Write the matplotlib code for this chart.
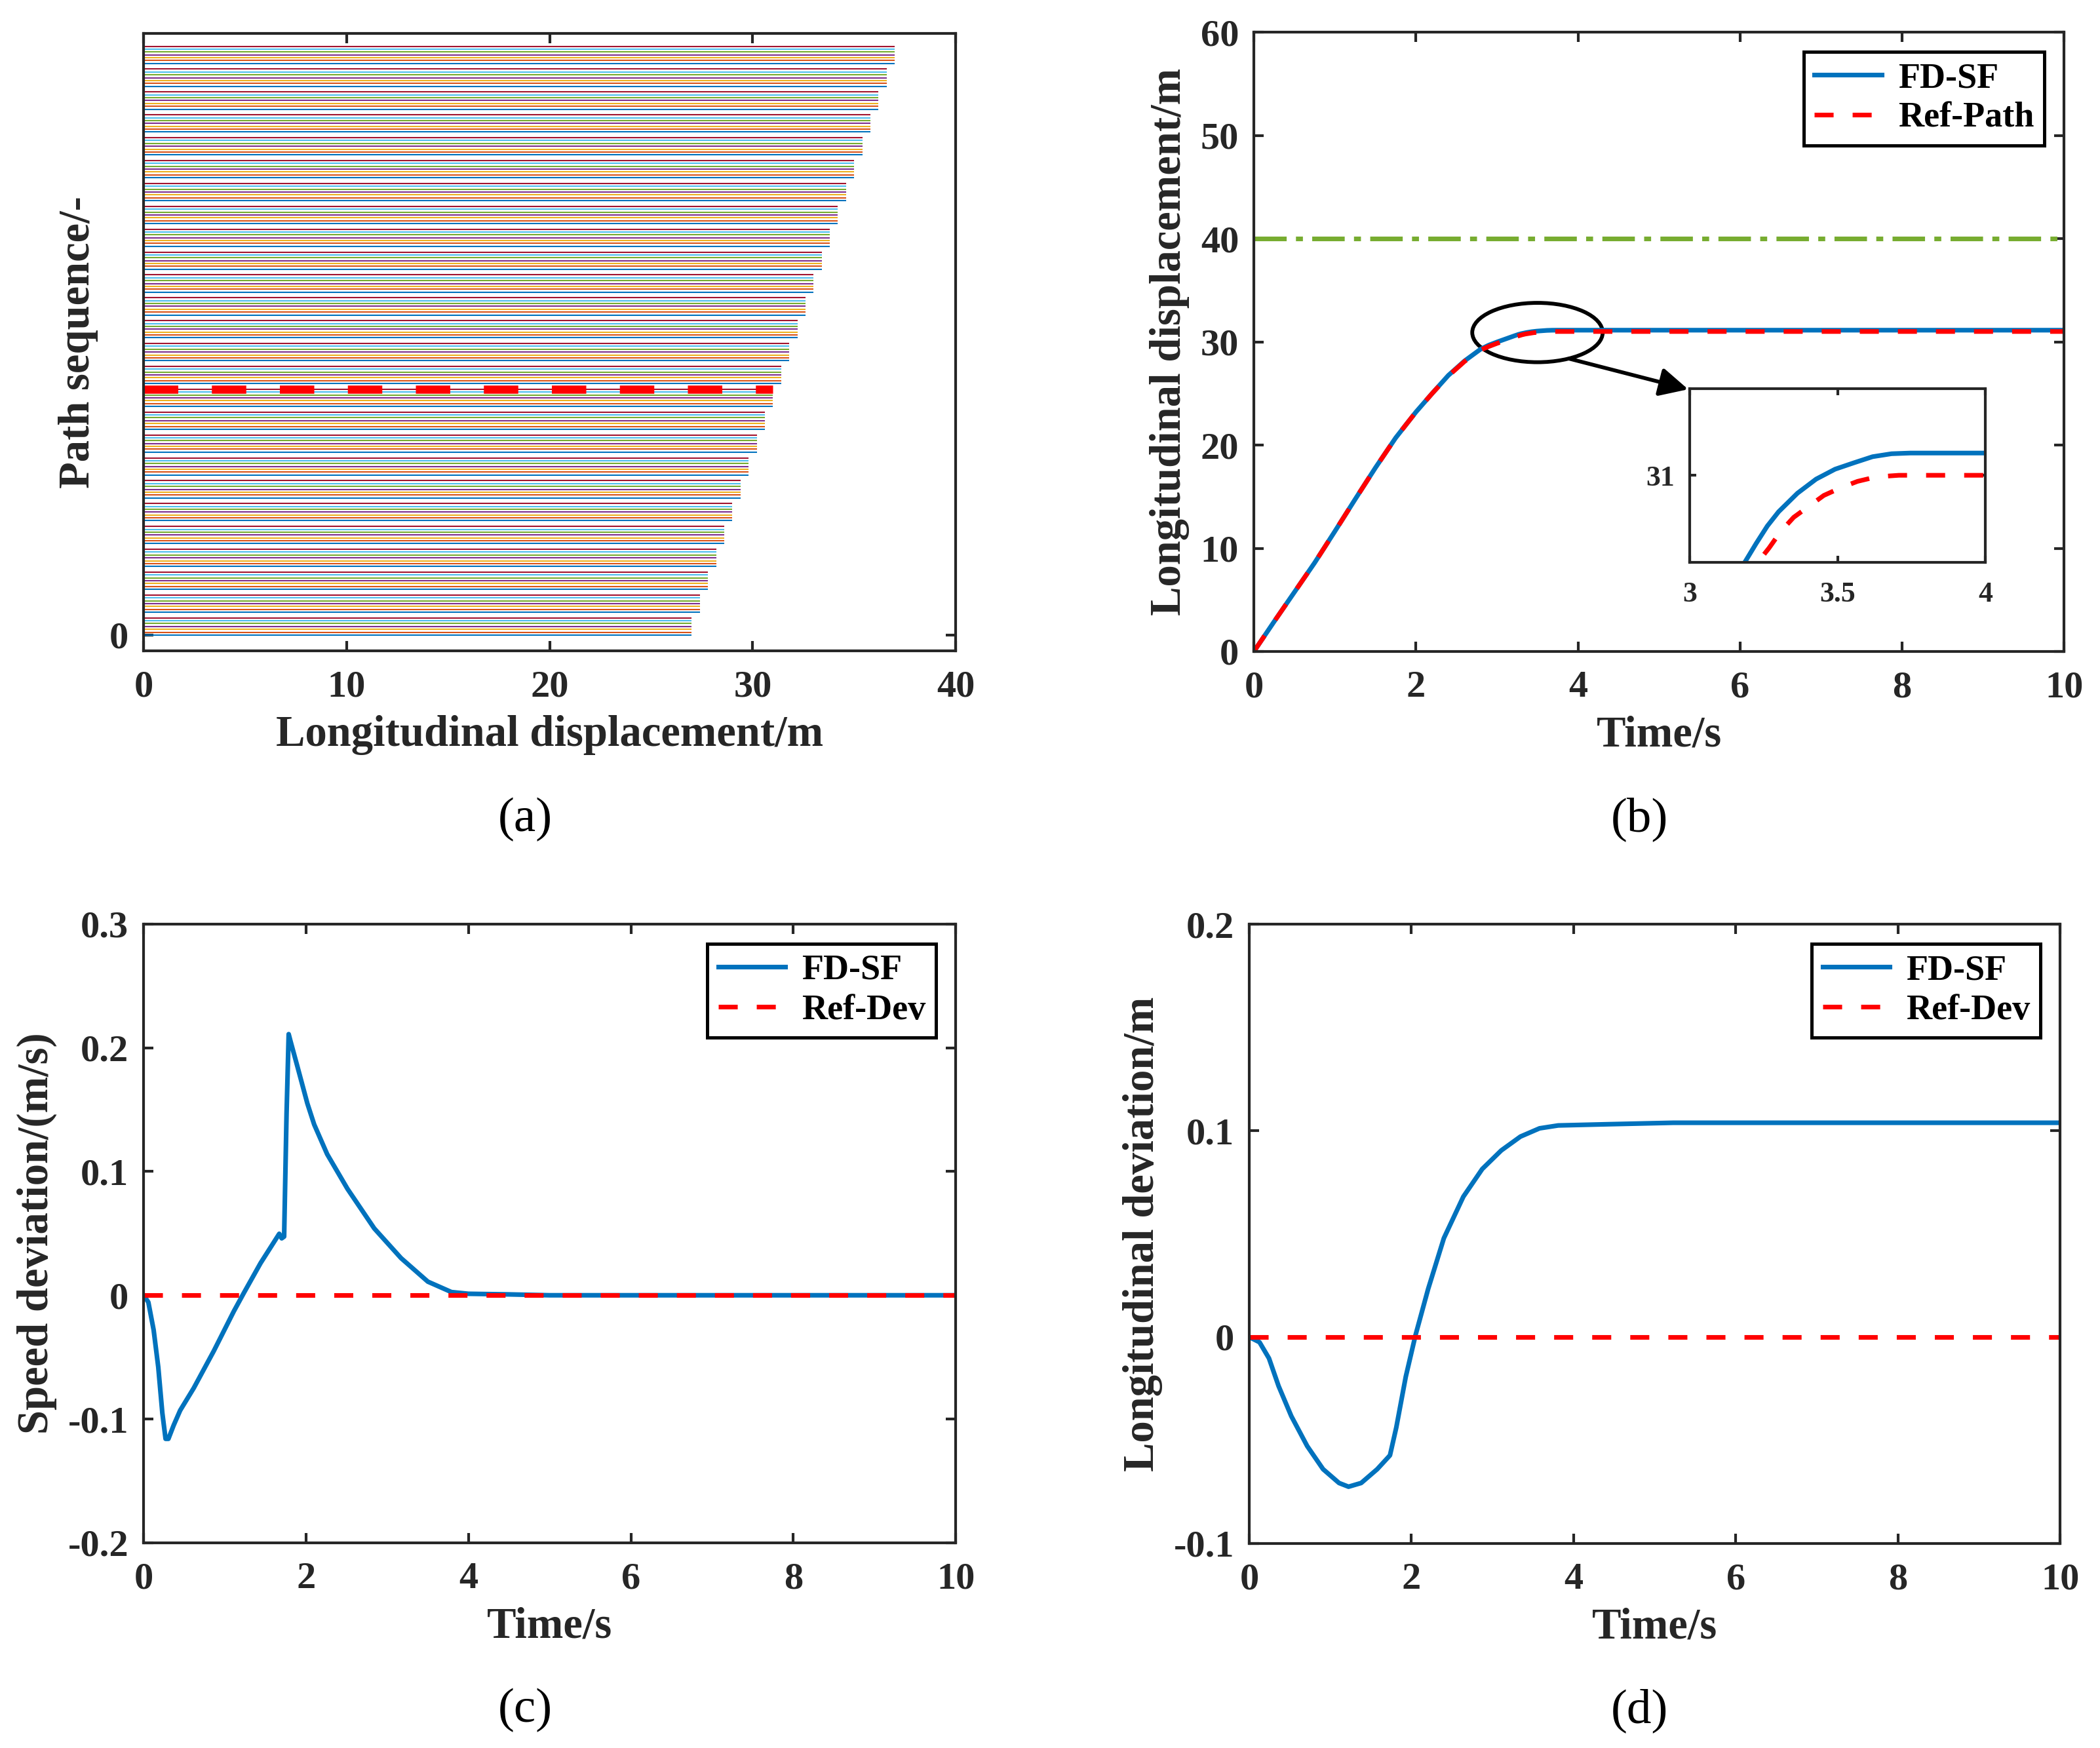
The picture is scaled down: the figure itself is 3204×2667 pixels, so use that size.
import numpy as np
import matplotlib
matplotlib.use('Agg')
import matplotlib.pyplot as plt
from matplotlib.patches import Ellipse

plt.rcParams['font.family'] = ['Liberation Serif', 'DejaVu Serif']
plt.rcParams['font.weight'] = 'bold'
plt.rcParams['axes.unicode_minus'] = False

AX_COLOR = '#262626'
BLUE = '#0072BD'

# (a) candidate paths: 26 groups, 7 paths each, end of each group in metres
group_ends = [27.0, 27.4, 27.8, 28.2, 28.6, 29.0, 29.4, 29.8, 30.2, 30.6, 31.0, 31.4, 31.8,
              32.2, 32.6, 33.0, 33.4, 33.8, 34.2, 34.6, 35.0, 35.4, 35.8, 36.2, 36.6, 37.0]
path_colors = ['#0072BD', '#D95319', '#EDB120', '#7E2F8E', '#77AC30', '#4DBEEE', '#A2142F']
group_step = 8
selected_group = 10

# (b) longitudinal displacement
t_fd = [0, 0.25, 0.5, 0.75, 1.0, 1.25, 1.5, 1.75, 2.0, 2.2, 2.4, 2.6, 2.8, 2.9, 3.0, 3.1,
        3.186, 3.224, 3.262, 3.300, 3.364, 3.427, 3.491, 3.555, 3.618, 3.682, 3.746, 4.0, 10.0]
x_fd = [0, 2.9, 5.75, 8.6, 11.65, 14.75, 17.8, 20.7, 23.2, 25.0, 26.75, 28.15, 29.3, 29.68, 29.98, 30.26,
        30.5, 30.607, 30.708, 30.790, 30.897, 30.978, 31.035, 31.072, 31.107, 31.124, 31.128, 31.128, 31.128]
t_ref = [0, 0.25, 0.5, 0.75, 1.0, 1.25, 1.5, 1.75, 2.0, 2.2, 2.4, 2.6, 2.8, 2.9, 3.0, 3.1,
         3.230, 3.268, 3.307, 3.351, 3.402, 3.453, 3.510, 3.567, 3.631, 3.707, 4.0, 10.0]
x_ref = [0, 2.9, 5.75, 8.6, 11.65, 14.75, 17.8, 20.7, 23.2, 25.0, 26.7, 28.1, 29.22, 29.55, 29.85, 30.12,
         30.5, 30.582, 30.676, 30.758, 30.821, 30.884, 30.928, 30.965, 30.991, 31.0, 31.0, 31.0]
safe_limit = 40

# (c) speed deviation
t_v = [0, 0.058, 0.123, 0.18, 0.23, 0.27, 0.305, 0.37, 0.45, 0.617, 0.864, 1.11, 1.235, 1.44,
       1.605, 1.67, 1.70, 1.73, 1.76, 1.786, 1.81, 1.893, 2.016, 2.1, 2.26, 2.51, 2.84, 3.17,
       3.5, 3.79, 4.0, 4.5, 5.0, 10.0]
dv = [0, -0.0056, -0.028, -0.058, -0.095, -0.116, -0.116, -0.105, -0.093, -0.075, -0.045, -0.013,
      0.002, 0.026, 0.043, 0.0497, 0.046, 0.0474, 0.147, 0.211, 0.205, 0.185, 0.155, 0.138, 0.114,
      0.086, 0.054, 0.030, 0.011, 0.0026, 0.0012, 0.0007, 0.0, 0.0]

# (d) longitudinal deviation
t_d = [0, 0.126, 0.243, 0.361, 0.518, 0.714, 0.91, 1.107, 1.224, 1.38, 1.578, 1.735, 1.813,
       1.93, 2.05, 2.206, 2.40, 2.64, 2.873, 3.108, 3.344, 3.58, 3.81, 4.44, 5.23, 10.0]
dx = [0, -0.0025, -0.0103, -0.0237, -0.0383, -0.0528, -0.064, -0.0707, -0.0725, -0.0707, -0.064,
      -0.0573, -0.0438, -0.0192, 0.0009, 0.0233, 0.0479, 0.068, 0.0814, 0.0904, 0.0971, 0.1011,
      0.1025, 0.1031, 0.1038, 0.1038]


def style(ax, size=14):
    ax.tick_params(direction='in', top=True, right=True, length=3.5, width=1.0,
                   labelsize=size, colors=AX_COLOR)
    ax.tick_params(axis='x', pad=7)
    ax.tick_params(axis='y', pad=5.5)
    for s in ax.spines.values():
        s.set_linewidth(1.0)
        s.set_color(AX_COLOR)
    for lab in ax.get_xticklabels() + ax.get_yticklabels():
        lab.set_fontweight('bold')


def fmt(vals):
    return ['%g' % v for v in vals]


def add_legend(ax, labels):
    leg = ax.legend(labels, loc='upper right', fontsize=13, frameon=True, fancybox=False,
                    framealpha=1, edgecolor='black', borderaxespad=0.55, handlelength=1.9,
                    handletextpad=0.45, borderpad=0.3, labelspacing=0.2)
    leg.get_frame().set_linewidth(1.2)
    for txt in leg.get_texts():
        txt.set_fontweight('bold')
    return leg


fig = plt.figure(figsize=(10.68, 8.89), dpi=300)

# ---- (a)
ax = fig.add_axes([0.0684, 0.6277, 0.3867, 0.3532])
for g, xe in enumerate(group_ends):
    for k, c in enumerate(path_colors):
        ax.plot([0, xe], [g * group_step + k] * 2, color=c, lw=0.5, solid_capstyle='butt')
sel_y = selected_group * group_step + len(path_colors) - 1
ax.plot([0, group_ends[selected_group]], [sel_y, sel_y], color='red', lw=3,
        dashes=(4.2, 4.1), dash_capstyle='butt')
ax.set_xlim(0, 40)
ax.set_ylim(-5.5, 210.5)
ax.set_xticks([0, 10, 20, 30, 40])
ax.set_xticklabels(fmt([0, 10, 20, 30, 40]))
ax.set_yticks([0])
ax.set_yticklabels(['0'])
ax.set_xlabel('Longitudinal displacement/m', fontsize=16, fontweight='bold', labelpad=4, color=AX_COLOR)
ax.set_ylabel('Path sequence/-', fontsize=16, fontweight='bold', labelpad=4, color=AX_COLOR)
style(ax)

# ---- (b)
ax = fig.add_axes([0.5971, 0.6273, 0.3858, 0.3543])
ax.plot(t_fd, x_fd, color=BLUE, lw=1.7)
ax.plot(t_ref, x_ref, color='red', lw=1.7, dashes=(4.1, 4.1))
ax.plot([0, 10], [safe_limit, safe_limit], color='#77AC30', lw=1.7, dashes=(7, 2, 1.5, 2))
ax.set_xlim(0, 10)
ax.set_ylim(0, 60)
ax.set_xticks(range(0, 11, 2))
ax.set_xticklabels(fmt(range(0, 11, 2)))
ax.set_yticks(range(0, 61, 10))
ax.set_yticklabels(fmt(range(0, 61, 10)))
ax.set_xlabel('Time/s', fontsize=16, fontweight='bold', labelpad=4, color=AX_COLOR)
ax.set_ylabel('Longitudinal displacement/m', fontsize=16, fontweight='bold', labelpad=4, color=AX_COLOR)
add_legend(ax, ['FD-SF', 'Ref-Path'])
ax.add_patch(Ellipse((3.5, 30.9), 1.61, 5.75, fill=False, edgecolor='black', lw=1.4))
ax.annotate('', xy=(5.36, 25.4), xytext=(3.89, 28.37),
            arrowprops=dict(arrowstyle='-|>', color='black', lw=1.4, mutation_scale=22,
                            shrinkA=0, shrinkB=0))
style(ax)

axi = fig.add_axes([0.8047, 0.6784, 0.1408, 0.0994])
axi.plot(t_fd, x_fd, color=BLUE, lw=1.7)
axi.plot(t_ref, x_ref, color='red', lw=1.7, dashes=(4.1, 4.1))
axi.set_xlim(3, 4)
axi.set_ylim(30.5, 31.5)
axi.set_xticks([3, 3.5, 4])
axi.set_xticklabels(fmt([3, 3.5, 4]))
axi.set_yticks([31])
axi.set_yticklabels(['31'])
style(axi, size=10.5)
axi.tick_params(length=2.5)

# ---- (c)
ax = fig.add_axes([0.0684, 0.1174, 0.3867, 0.3540])
ax.plot(t_v, dv, color=BLUE, lw=1.7)
ax.plot([0, 10], [0, 0], color='red', lw=1.7, dashes=(4.1, 4.1))
ax.set_xlim(0, 10)
ax.set_ylim(-0.2, 0.3)
ax.set_xticks(range(0, 11, 2))
ax.set_xticklabels(fmt(range(0, 11, 2)))
yt = [-0.2, -0.1, 0, 0.1, 0.2, 0.3]
ax.set_yticks(yt)
ax.set_yticklabels(fmt(yt))
ax.set_xlabel('Time/s', fontsize=16, fontweight='bold', labelpad=4, color=AX_COLOR)
ax.set_ylabel('Speed deviation/(m/s)', fontsize=16, fontweight='bold', labelpad=4, color=AX_COLOR)
add_legend(ax, ['FD-SF', 'Ref-Dev'])
style(ax)

# ---- (d)
ax = fig.add_axes([0.5949, 0.1170, 0.3861, 0.3543])
ax.plot(t_d, dx, color=BLUE, lw=1.7)
ax.plot([0, 10], [0, 0], color='red', lw=1.7, dashes=(4.1, 4.1))
ax.set_xlim(0, 10)
ax.set_ylim(-0.1, 0.2)
ax.set_xticks(range(0, 11, 2))
ax.set_xticklabels(fmt(range(0, 11, 2)))
yt = [-0.1, 0, 0.1, 0.2]
ax.set_yticks(yt)
ax.set_yticklabels(fmt(yt))
ax.set_xlabel('Time/s', fontsize=16, fontweight='bold', labelpad=4, color=AX_COLOR)
ax.set_ylabel('Longitudinal deviation/m', fontsize=16, fontweight='bold', labelpad=4, color=AX_COLOR)
add_legend(ax, ['FD-SF', 'Ref-Dev'])
style(ax)

# panel captions
for lab, x, y in [('(a)', 0.2500, 0.5313), ('(b)', 0.7806, 0.5313),
                  ('(c)', 0.2500, 0.0214), ('(d)', 0.7806, 0.0214)]:
    fig.text(x, y, lab, fontsize=18, fontweight='normal', ha='center', va='center', color='black')

fig.savefig('out.png', dpi=300, facecolor='white')
